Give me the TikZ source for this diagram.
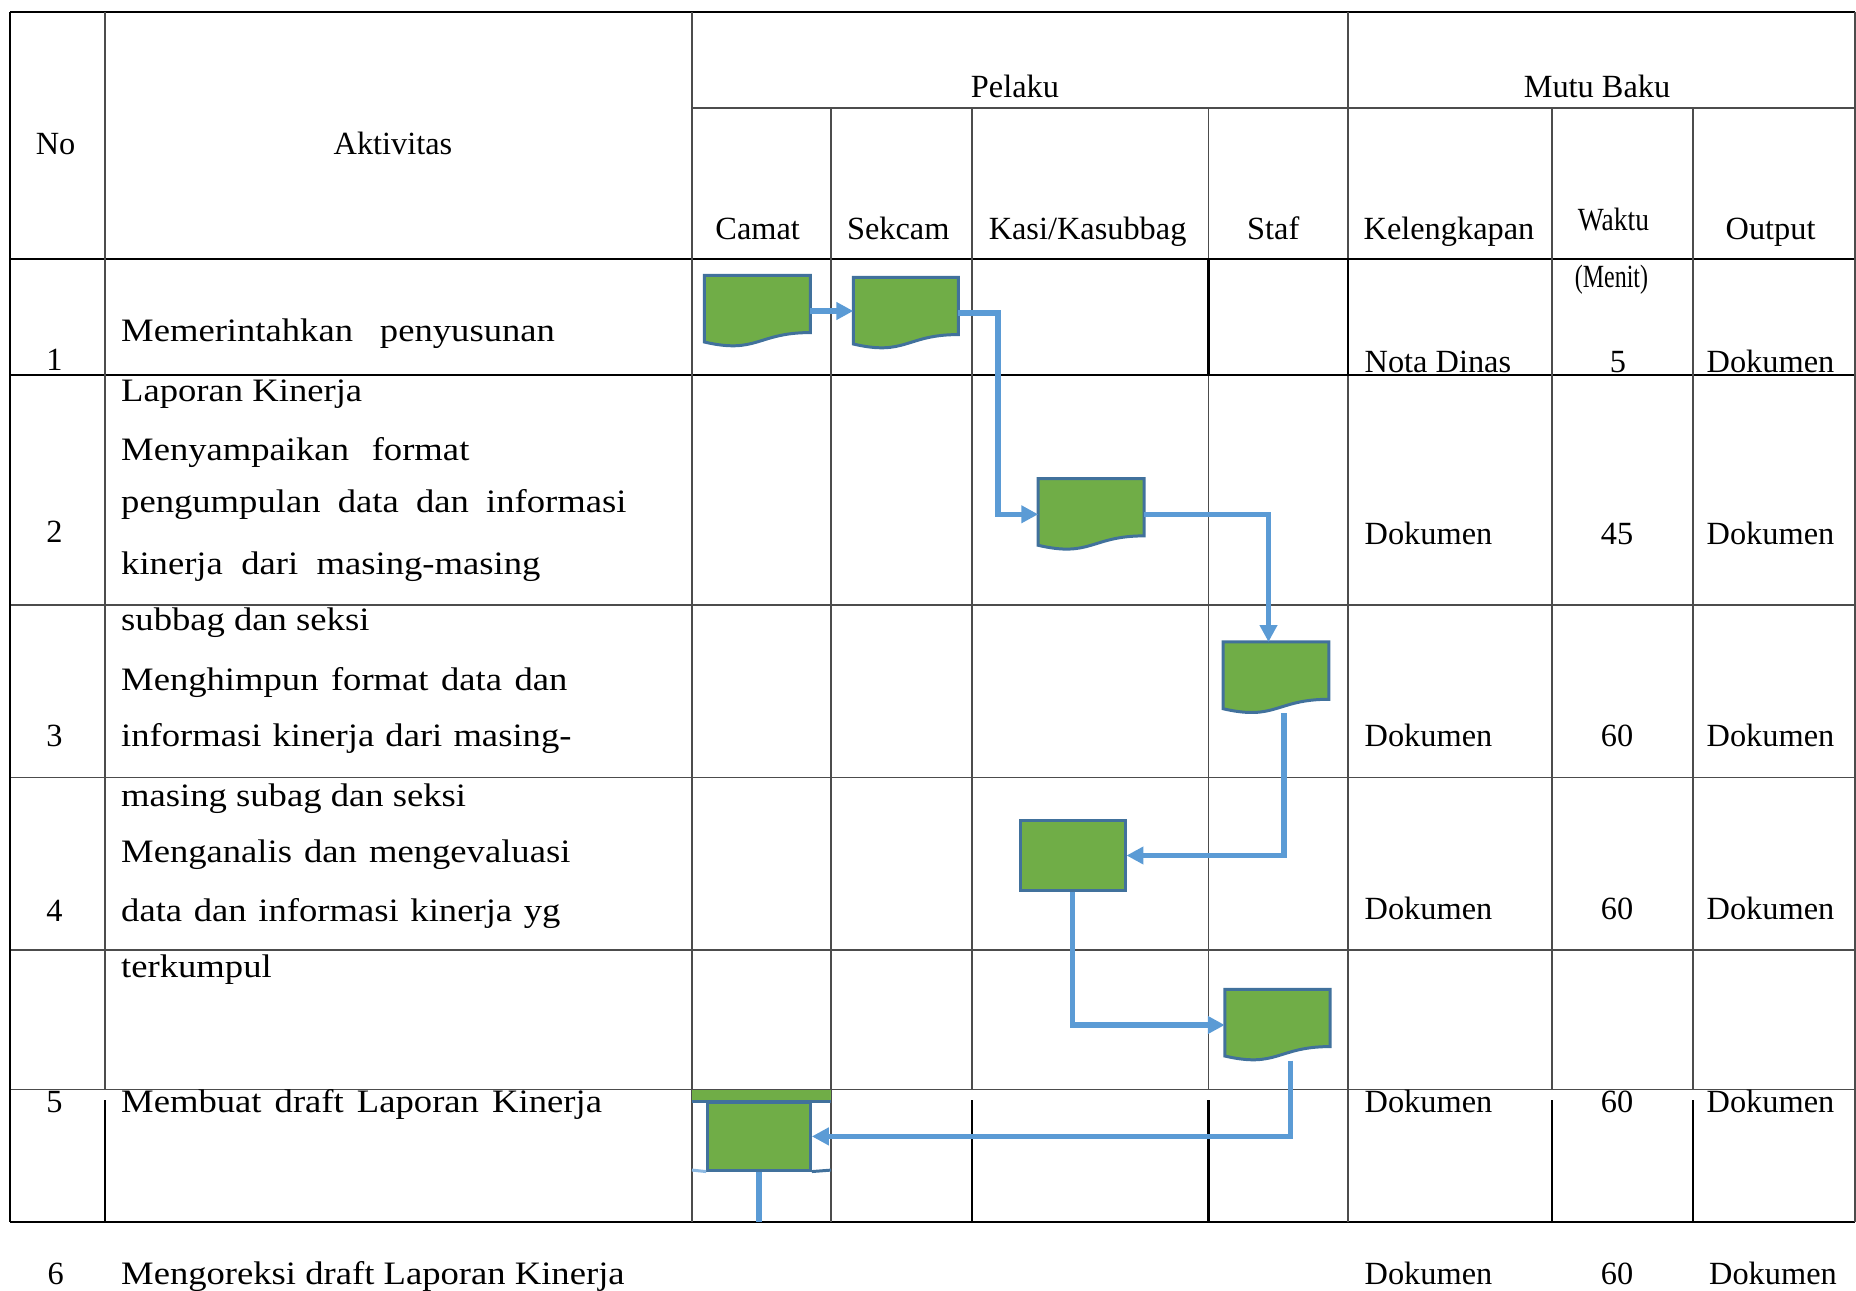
\documentclass[tikz,border=0pt]{standalone}
\usepackage{fontspec}
\setmainfont{Liberation Serif}
\newfontfamily\actfont[FakeStretch=1.12]{Liberation Serif}
\usepackage{graphicx}
\usetikzlibrary{arrows.meta,calc}
\definecolor{docgreen}{HTML}{70AD47}
\definecolor{docblue}{HTML}{41719C}
\definecolor{connblue}{HTML}{5B9BD5}
\tikzset{
  gridthin/.style={draw=black!70, line width=0.4pt},
  gridthick/.style={draw=black, line width=0.65pt},
  docbox/.style={rectangle, inner sep=0, minimum width=1.045cm, minimum height=0.70cm},
  procbox/.style={rectangle, draw=docblue, fill=docgreen, line width=0.85pt, inner sep=0},
  docline/.style={draw=docblue, fill=docgreen, line width=0.85pt},
  conn/.style={draw=connblue, line width=1.45pt, -{Triangle[length=4.8pt,width=4.8pt]}},
  connplain/.style={draw=connblue, line width=1.45pt},
  hdr/.style={inner sep=0, anchor=base, font=\fontsize{9.2}{11}\selectfont},
  cell/.style={inner sep=0, anchor=base west, font=\fontsize{9.2}{11}\selectfont},
  num/.style={inner sep=0, anchor=base, font=\fontsize{9.2}{11}\selectfont},
  act/.style={inner sep=0, anchor=base west, font=\actfont\fontsize{9.3}{12}\selectfont},
}
\newcommand\mydocshape[1]{%
  \path[docline] (#1.north west) -- (#1.north east)
    -- ($(#1.north east)!0.802!(#1.south east)$)
    .. controls ($(#1.north)!0.802!(#1.south)$) and ($(#1.north)!1.107!(#1.south)$)
    .. ($(#1.north west)!0.934!(#1.south west)$) -- cycle;}
\begin{document}
\begin{tikzpicture}[x=0.01cm, y=-0.01cm]
\useasboundingbox (0,0) rectangle (1856,1291);

% ---------- table grid ----------
\draw[gridthick] (10,12) -- (1855,12);
\draw[gridthin] (692,108) -- (1855,108);
\draw[gridthick] (10,259.3) -- (1855,259.3);
\draw[gridthick] (10,375) -- (1855,375);
\foreach \yy in {605,777.7,950,1089.5} \draw[gridthin] (10,\yy) -- (1855,\yy);
\draw[gridthick] (10,1221.7) -- (1855,1221.7);
\draw[gridthick] (10,12) -- (10,1221.7);
\foreach \xx in {692,1348,1855} \draw[gridthin] (\xx,12) -- (\xx,1221.7);
\draw[gridthin] (105,12) -- (105,1089.5);
\draw[gridthick] (105,1100) -- (105,1221.7);
\draw[gridthin] (831,108) -- (831,1221.7);
\foreach \xx in {972,1208.5,1552,1693} {
  \draw[gridthin] (\xx,108) -- (\xx,1089.5);
  \draw[gridthick] (\xx,1100) -- (\xx,1221.7);
}
\draw[gridthick] (1208.5,259.3) rectangle (1348,375);

% ---------- header texts ----------
\node[hdr] (hno) at (55.6,155) {No};
\node[hdr] (hakt) at (393,155) {Aktivitas};
\node[hdr] (hpel) at (1015,98) {Pelaku};
\node[hdr] (hmutu) at (1597,98) {Mutu Baku};
\node[hdr] (hcam) at (757.7,240) {Camat};
\node[hdr] (hsek) at (898.3,240) {Sekcam};
\node[hdr] (hkasi) at (1087.6,240) {Kasi/Kasubbag};
\node[hdr] (hstaf) at (1273.3,240) {Staf};
\node[hdr] (hkel) at (1449,240) {Kelengkapan};
\node[hdr] (hwak) at (1613.5,231) {\scalebox{0.85}[1]{Waktu}};
\node[hdr] (hout) at (1770.6,240) {Output};
\node[hdr] (hmen) at (1611.5,288) {\scalebox{0.74}[1]{(Menit)}};

% ---------- row numbers ----------
\node[num] (n1) at (54.5,370.7) {1};
\node[num] (n2) at (54.5,543) {2};
\node[num] (n3) at (54.5,747) {3};
\node[num] (n4) at (54.5,921) {4};
\node[num] (n5) at (54.5,1112.7) {5};
\node[num] (n6) at (55.7,1284) {6};

% ---------- activity texts ----------
\node[act] (a1) at (120.5,341.7) {\makebox[4.335cm][s]{Memerintahkan penyusunan}};
\node[act] (a2) at (120.5,402) {Laporan Kinerja};
\node[act] (a3) at (120.5,461) {\makebox[3.48cm][s]{Menyampaikan format}};
\node[act] (a4) at (120.5,513) {\makebox[5.05cm][s]{pengumpulan data dan informasi}};
\node[act] (a5) at (120.5,575) {\makebox[4.19cm][s]{kinerja dari masing-masing}};
\node[act] (a6) at (120.5,631) {subbag dan seksi};
\node[act] (a7) at (120.5,691) {\makebox[4.46cm][s]{Menghimpun format data dan}};
\node[act] (a8) at (120.5,747) {\makebox[4.50cm][s]{informasi kinerja dari masing-}};
\node[act] (a9) at (120.5,807) {masing subag dan seksi};
\node[act] (a10) at (120.5,863) {\makebox[4.49cm][s]{Menganalis dan mengevaluasi}};
\node[act] (a11) at (120.5,921) {\makebox[4.39cm][s]{data dan informasi kinerja yg}};
\node[act] (a12) at (120.5,978) {terkumpul};
\node[act] (a13) at (120.5,1112.7) {\makebox[4.805cm][s]{Membuat draft Laporan Kinerja}};
\node[act] (a14) at (120.5,1284) {Mengoreksi draft Laporan Kinerja};

% ---------- mutu baku texts ----------
\node[cell] (k1t) at (1364,373) {Nota Dinas};
\node[num]  (w1t) at (1618,373) {5};
\node[cell] (o1t) at (1706,373) {Dokumen};
\node[cell] (k2t) at (1364,545) {Dokumen};
\node[num]  (w2t) at (1617,545) {45};
\node[cell] (o2t) at (1706,545) {Dokumen};
\node[cell] (k3t) at (1364,746.5) {Dokumen};
\node[num]  (w3t) at (1617,746.5) {60};
\node[cell] (o3t) at (1706,746.5) {Dokumen};
\node[cell] (k4t) at (1364,919.3) {Dokumen};
\node[num]  (w4t) at (1617,919.3) {60};
\node[cell] (o4t) at (1706,919.3) {Dokumen};
\node[cell] (k5t) at (1364,1112.7) {Dokumen};
\node[num]  (w5t) at (1617,1112.7) {60};
\node[cell] (o5t) at (1706,1112.7) {Dokumen};
\node[cell] (k6t) at (1364,1284) {Dokumen};
\node[num]  (w6t) at (1617,1284) {60};
\node[cell] (o6t) at (1708.5,1284) {Dokumen};

% ---------- flow shapes ----------
\node[docbox] (d1) at (757.3,311) {};
\node[docbox, minimum width=1.037cm] (d2) at (905.9,313) {};
\node[docbox] (d3) at (1091.2,514.3) {};
\node[docbox] (d4) at (1276,677.7) {};
\node[docbox, minimum width=1.04cm] (d5) at (1277.5,1025) {};
\mydocshape{d1}
\mydocshape{d2}
\mydocshape{d3}
\mydocshape{d4}
\mydocshape{d5}
\node[procbox, minimum width=1.044cm, minimum height=0.69cm] (r1) at (1072.8,855.5) {};
\fill[docgreen] (692,1089.7) rectangle (831,1100.7);
\draw[docblue, line width=0.85pt] (692,1101.7) -- (831,1101.7);
\node[procbox, minimum width=1.027cm, minimum height=0.673cm] (r2) at (759,1136.4) {};
\draw[connblue!70, line width=0.85pt] (692,1170.1) -- (r2.south west);
\draw[docblue, line width=0.85pt] (r2.south east) -- (831,1170.1);

% ---------- connectors ----------
\coordinate (k1) at (998,313);
\coordinate (k2) at (1268.5,600);
\coordinate (k3) at (1284,700);
\coordinate (k4) at (1290.7,1000);
\coordinate (e1) at (759,1221.7);
\draw[conn] (d1.east) -- (d1.east -| d2.west);
\draw[conn] (d2.east) -- (k1) |- (d3.west);
\draw[conn] (d3.east) -| (k2 |- d4.north);
\draw[conn] (k3 |- d4.south) |- (r1.east);
\draw[conn] (r1.south) |- (d5.west);
\draw[conn] (k4 |- d5.south) |- (r2.east);
\draw[connplain] (r2.south) -- (e1);
\end{tikzpicture}
\end{document}
